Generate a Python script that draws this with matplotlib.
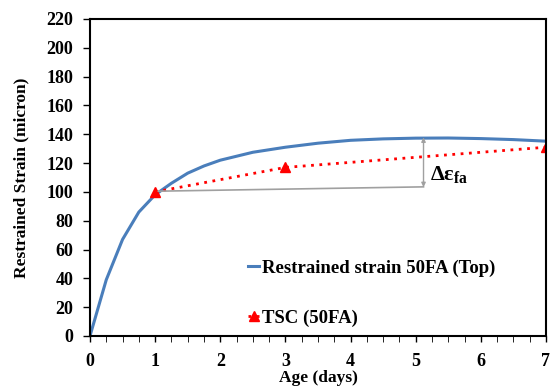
import numpy as np
import matplotlib
matplotlib.use("Agg")
import matplotlib.pyplot as plt
from matplotlib.ticker import MultipleLocator

plt.rcParams['font.family'] = ['Liberation Serif', 'DejaVu Serif']
plt.rcParams['font.weight'] = 'bold'
plt.rcParams['mathtext.fontset'] = 'custom'
plt.rcParams['mathtext.rm'] = 'Liberation Serif:bold'
plt.rcParams['mathtext.it'] = 'Liberation Serif:bold'
plt.rcParams['mathtext.bf'] = 'Liberation Serif:bold'

# Restrained strain 50FA (Top)
age = [0, 0.25, 0.5, 0.75, 1.0, 1.25, 1.5, 1.75, 2.0, 2.5, 3.0, 3.5, 4.0, 4.5, 5.0, 5.5, 6.0, 6.5, 7.0]
strain = [0, 39, 67, 86, 98, 106, 113, 118, 122, 127.5, 131, 133.8, 135.8, 136.8, 137.3, 137.4, 137, 136.3, 135.2]

# TSC (50FA)
tsc_age = [1, 3, 7]
tsc = [100, 117, 131]

fig = plt.figure(figsize=(5.5, 3.9), dpi=100)
ax = fig.add_axes([0.1636, 0.1385, 0.8291, 0.8128])

ax.plot(age, strain, color='#4a7ebb', lw=2.2, label='Restrained strain 50FA (Top)')
ax.plot(tsc_age, tsc, color='red', ls=(0, (1, 2)), lw=2.0, marker='^', ms=7,
        label='TSC (50FA)')

# delta annotation
ax.plot([1.05, 5.12], [100.5, 103.5], color='#a0a0a0', lw=1.2)
ax.annotate('', xy=(5.12, 137.8), xytext=(5.12, 103.3),
            arrowprops=dict(arrowstyle='<|-|>', color='#a0a0a0', lw=1.0,
                            mutation_scale=6, shrinkA=0, shrinkB=0))
ax.text(5.22, 112, r'$\Delta\varepsilon_{\mathrm{fa}}$', fontsize=16, va='center', ha='left')

ax.set_xlim(0, 7)
ax.set_ylim(0, 220)
ax.xaxis.set_major_locator(MultipleLocator(1))
ax.xaxis.set_minor_locator(MultipleLocator(0.25))
ax.yaxis.set_major_locator(MultipleLocator(20))
ax.tick_params(axis='both', labelsize=13, direction='out', width=1)
ax.tick_params(axis='x', which='major', length=4, pad=8)
ax.tick_params(axis='x', which='minor', length=4)
ax.tick_params(axis='y', length=5, pad=7)
for s in ax.spines.values():
    s.set_linewidth(1.5)

ax.set_xlabel('Age (days)', fontsize=12.5, fontweight='bold', labelpad=0)
ax.set_ylabel('Restrained Strain (micron)', fontsize=12.5, fontweight='bold', labelpad=12)

ax.legend(loc='upper left', bbox_to_anchor=(0.33, 0.265), frameon=False, fontsize=13.5,
          handlelength=0.6, handletextpad=0.15, labelspacing=1.75, borderaxespad=0)

fig.savefig('out.png', dpi=100)
